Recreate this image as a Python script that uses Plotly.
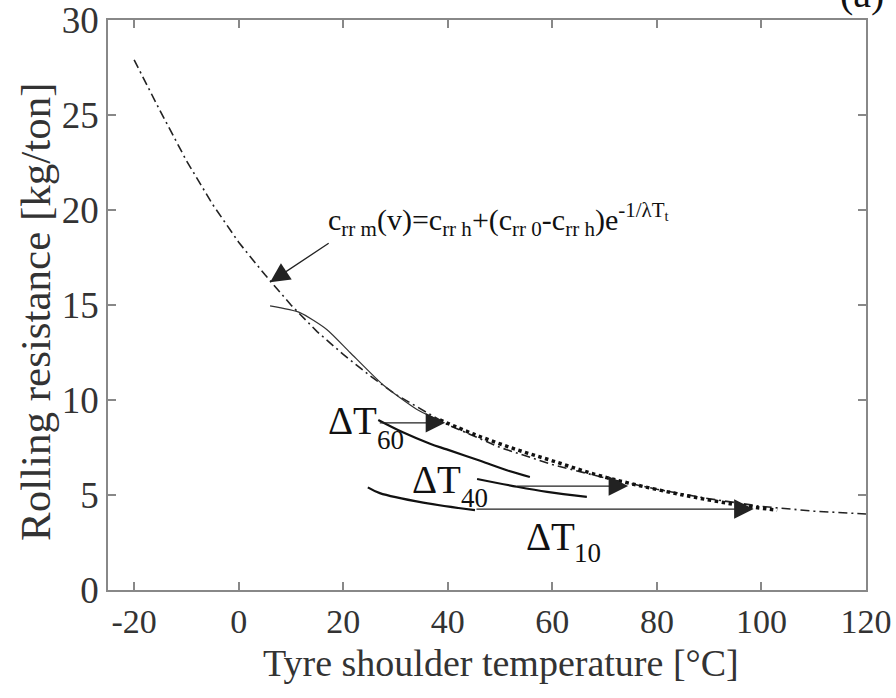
import plotly.graph_objects as go

# model curve c_rr m(v) (dash-dot)
model_t = [-20, -15, -10, -5, 0, 5, 10, 15, 20, 25, 30, 40, 50, 60, 70, 80, 90, 100, 110, 120]
model_c = [27.9, 25.2, 22.6, 20.3, 18.3, 16.6, 15.0, 13.6, 12.4, 11.3, 10.3, 8.7, 7.5, 6.6, 5.9, 5.3, 4.8, 4.4, 4.15, 4.0]

# measured curve, thin solid part
meas_t = [6.0, 11.7, 16.9, 21.3, 27.6, 34.1, 38.5]
meas_c = [14.95, 14.6, 13.7, 12.5, 10.8, 9.5, 8.9]

# measured curve, thick dotted part
dot_t = [38.5, 45, 52.5, 60, 68, 75, 85, 95, 103]
dot_c = [8.95, 8.2, 7.45, 6.8, 6.1, 5.6, 5.0, 4.5, 4.2]

# cooling curves
dt60_t = [26.7, 31.4, 36.6, 39.8, 46.2, 51.3, 55.7]
dt60_c = [8.95, 8.3, 7.7, 7.4, 6.8, 6.3, 5.95]
dt40_t = [45.6, 52.5, 59.0, 66.6]
dt40_c = [5.84, 5.47, 5.16, 4.9]
dt10_t = [24.7, 27.0, 35.3, 45.2]
dt10_c = [5.4, 5.1, 4.6, 4.2]

# horizontal arrows (start T, end T, level)
arrows = [(26.7, 39.5, 8.8), (53.0, 74.5, 5.47), (45.2, 98.5, 4.26)]

# ΔT labels: (main text, subscript, x, y of main, x, y of subscript)
dt_labels = [("ΔT", "60", 21.7, 8.9, 29.0, 7.9),
             ("ΔT", "40", 37.9, 5.84, 45.2, 4.84),
             ("ΔT", "10", 59.7, 2.84, 66.8, 1.95)]

x_ticks = [-20, 0, 20, 40, 60, 80, 100, 120]
x_tick_text = ["-20", "0", "20", "40", "60", "80", "100", "120"]
y_ticks = [0, 5, 10, 15, 20, 25, 30]

FONT = "Liberation Serif"

fig = go.Figure()
fig.add_trace(go.Scatter(x=model_t, y=model_c, mode="lines",
                         line=dict(color="#222", width=1.6, dash="9px,4px,2px,4px")))
fig.add_trace(go.Scatter(x=meas_t, y=meas_c, mode="lines", line_shape="spline",
                         line=dict(color="#333", width=1.2, smoothing=0.6)))
fig.add_trace(go.Scatter(x=dot_t, y=dot_c, mode="lines", line_shape="spline",
                         line=dict(color="#111", width=3.5, dash="dot")))
for t, c in [(dt60_t, dt60_c), (dt40_t, dt40_c), (dt10_t, dt10_c)]:
    fig.add_trace(go.Scatter(x=t, y=c, mode="lines", line_shape="spline",
                             line=dict(color="#111", width=2.2)))

for x0, x1, lvl in arrows:
    fig.add_annotation(x=x1, y=lvl, ax=x0, ay=lvl, xref="x", yref="y", axref="x", ayref="y",
                       text="", showarrow=True, arrowhead=2, arrowsize=3, arrowwidth=1.3,
                       arrowcolor="#222")

# formula arrow
fig.add_annotation(x=6.0, y=16.2, ax=17.5, ay=18.3, xref="x", yref="y", axref="x", ayref="y",
                   text="", showarrow=True, arrowhead=2, arrowsize=3, arrowwidth=1.3,
                   arrowcolor="#222")
fig.add_annotation(x=16.7, y=19.5, xref="x", yref="y", xanchor="left", yanchor="middle",
                   showarrow=False,
                   text="c<sub>rr m</sub>(v)=c<sub>rr h</sub>+(c<sub>rr 0</sub>-c<sub>rr h</sub>)e<sup>-1/λT<sub>t</sub></sup>",
                   font=dict(family=FONT, size=30, color="#111"))

for main, sub, xm, ym, xs, ys in dt_labels:
    fig.add_annotation(x=xm, y=ym, xref="x", yref="y", showarrow=False, text=main,
                       font=dict(family=FONT, size=39, color="#111"))
    fig.add_annotation(x=xs, y=ys, xref="x", yref="y", showarrow=False, text=sub,
                       font=dict(family=FONT, size=27, color="#111"))

# axis titles
fig.add_annotation(x=0.5185, y=-0.128, xref="paper", yref="paper", showarrow=False,
                   text="Tyre shoulder temperature [°C]", yanchor="middle",
                   font=dict(family=FONT, size=38, color="#333"))
fig.add_annotation(x=-0.0963, y=0.4877, xref="paper", yref="paper", showarrow=False,
                   text="Rolling resistance [kg/ton]", textangle=-90, xanchor="center",
                   font=dict(family=FONT, size=43, color="#333"))

# panel letter, cut off at the top edge
fig.add_annotation(x=0.9947, y=1.047, xref="paper", yref="paper", showarrow=False, text="(a)",
                   xanchor="center", yanchor="middle",
                   font=dict(family=FONT, size=40, color="#111"))

axis_common = dict(showgrid=False, zeroline=False, showline=True, linecolor="#888", linewidth=1.5,
                   mirror="ticks", ticks="inside", ticklen=8, tickcolor="#888", tickwidth=1.5,
                   automargin=False, ticklabeloverflow="allow")
fig.update_xaxes(range=[-25, 120], tickvals=x_ticks, ticktext=x_tick_text,
                 tickfont=dict(family=FONT, size=34, color="#333"), **axis_common)
fig.update_yaxes(range=[0, 30], tickvals=y_ticks,
                 tickfont=dict(family=FONT, size=37, color="#333"), **axis_common)
fig.update_layout(width=896, height=698, showlegend=False, plot_bgcolor="white",
                  paper_bgcolor="white", margin=dict(l=108, r=30, t=20, b=108))

# drop the page's default body margin so the figure fills the window
fig.write_html("out.html", config={"displayModeBar": False},
               post_script="document.body.style.margin='0';")
